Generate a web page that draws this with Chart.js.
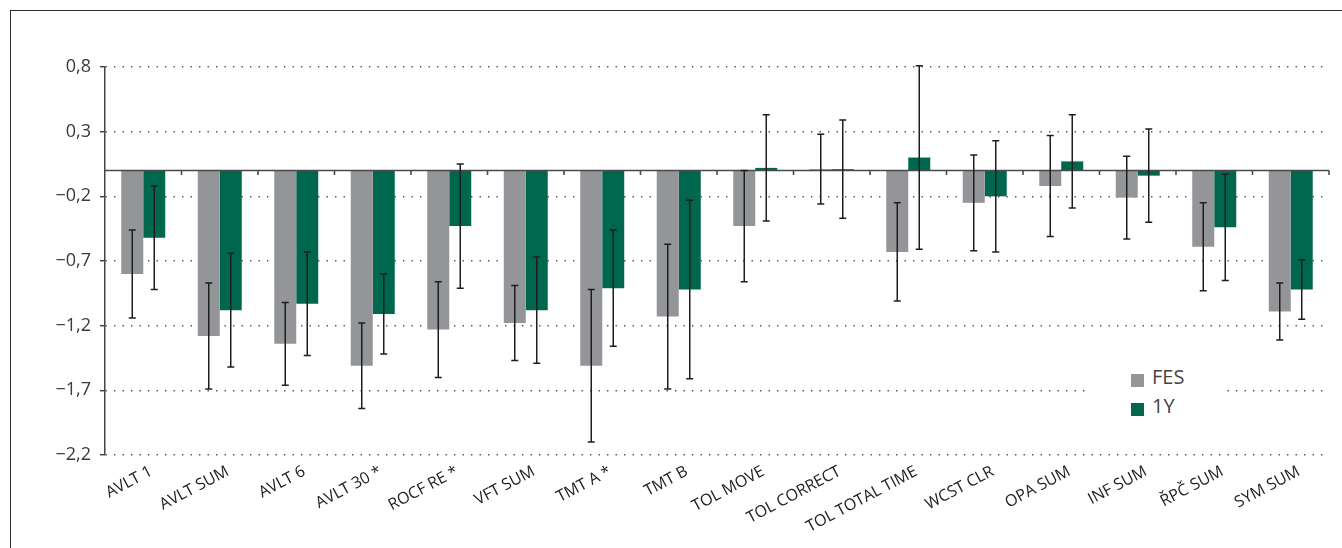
<!DOCTYPE html>
<html>
<head>
<meta charset="utf-8">
<script src="https://cdn.jsdelivr.net/npm/chart.js@4/dist/chart.umd.min.js"></script>
<style>
  html, body { margin: 0; padding: 0; background: #fff; overflow: hidden; }
  #wrap { position: relative; width: 1342px; height: 548px; }
  #frame {
    position: absolute; left: 10px; top: 10px; width: 1400px; height: 600px;
    border: 1.5px solid #2e2e2e; box-sizing: border-box;
  }
  #chart { position: absolute; left: 0; top: 0; }
  #legend {
    position: absolute; left: 1087px; top: 356px; width: 135px; height: 68px;
    background: #fff; font-family: 'Open Sans', sans-serif; font-size: 20px; color: #444;
  }
  .item { position: absolute; left: 44px; height: 20px; line-height: 20px; }
  .item i { position: absolute; left: 0; top: 4px; width: 12.5px; height: 12.5px; }
  .item span { position: absolute; left: 21px; top: -3px; white-space: nowrap; }
</style>
</head>
<body>
<div id="wrap">
  <div id="frame"></div>
  <canvas id="chart" width="1342" height="548"></canvas>
  <div id="legend">
    <div class="item" style="top:14px"><i style="background:#939598"></i><span>FES</span></div>
    <div class="item" style="top:43px"><i style="background:#00674f"></i><span>1Y</span></div>
  </div>
</div>
<script>
const categories = ['AVLT 1', 'AVLT SUM', 'AVLT 6', 'AVLT 30 *', 'ROCF RE *', 'VFT SUM', 'TMT A *', 'TMT B',
  'TOL MOVE', 'TOL CORRECT', 'TOL TOTAL TIME', 'WCST CLR', 'OPA SUM', 'INF SUM', 'ŘPČ SUM', 'SYM SUM']

const fesValues = [-0.80, -1.28, -1.34, -1.51, -1.23, -1.18, -1.51, -1.13, -0.43, 0.01, -0.63, -0.25, -0.12, -0.21, -0.59, -1.09]
const fesErrors = [0.34, 0.41, 0.32, 0.33, 0.37, 0.29, 0.59, 0.56, 0.43, 0.27, 0.38, 0.37, 0.39, 0.32, 0.34, 0.22]

const oneYearValues = [-0.52, -1.08, -1.03, -1.11, -0.43, -1.08, -0.91, -0.92, 0.02, 0.01, 0.10, -0.20, 0.07, -0.04, -0.44, -0.92]
const oneYearErrors = [0.40, 0.44, 0.40, 0.31, 0.48, 0.41, 0.45, 0.69, 0.41, 0.38, 0.71, 0.43, 0.36, 0.36, 0.41, 0.23]

const yTicks = [-2.2, -1.7, -1.2, -0.7, -0.2, 0.3, 0.8]

Chart.defaults.font.family = "'Open Sans', sans-serif"

// zero line with category tick marks, then the error bars
const overlay = {
  id: 'overlay',
  afterDatasetsDraw(chart) {
    const { ctx, chartArea, scales: { x, y } } = chart
    const y0 = y.getPixelForValue(0)
    ctx.save()
    ctx.strokeStyle = '#4a4a4a'
    ctx.lineWidth = 1.6
    ctx.beginPath()
    ctx.moveTo(chartArea.left, y0)
    ctx.lineTo(chartArea.right, y0)
    for (let i = 0; i < categories.length; i++) {
      const bx = x.getPixelForValue(i + 0.5)
      ctx.moveTo(bx, y0)
      ctx.lineTo(bx, y0 + 4.5)
    }
    ctx.stroke()

    ctx.strokeStyle = '#1e1e1e'
    ctx.lineWidth = 1.5
    chart.data.datasets.forEach((ds, di) => {
      const meta = chart.getDatasetMeta(di)
      meta.data.forEach((bar, j) => {
        const top = y.getPixelForValue(ds.data[j] + ds.errors[j])
        const bot = y.getPixelForValue(ds.data[j] - ds.errors[j])
        ctx.beginPath()
        ctx.moveTo(bar.x, top)
        ctx.lineTo(bar.x, bot)
        ctx.moveTo(bar.x - 3.5, top)
        ctx.lineTo(bar.x + 3.5, top)
        ctx.moveTo(bar.x - 3.5, bot)
        ctx.lineTo(bar.x + 3.5, bot)
        ctx.stroke()
      })
    })
    ctx.restore()
  },
}

new Chart(document.getElementById('chart'), {
  type: 'bar',
  data: {
    labels: categories,
    datasets: [
      { label: 'FES', data: fesValues, errors: fesErrors, backgroundColor: '#939598' },
      { label: '1Y', data: oneYearValues, errors: oneYearErrors, backgroundColor: '#00674f' },
    ],
  },
  options: {
    responsive: false,
    animation: false,
    layout: { padding: { top: 67, right: 13, left: 0, bottom: 0 } },
    datasets: { bar: { categoryPercentage: 0.575, barPercentage: 1, borderWidth: 0 } },
    plugins: { legend: { display: false }, tooltip: { enabled: false } },
    scales: {
      x: {
        grid: { display: false, drawTicks: false },
        border: { display: false },
        afterFit: (s) => { s.height = 93 },
        ticks: {
          autoSkip: false,
          minRotation: 28,
          maxRotation: 28,
          padding: 7,
          labelOffset: 8,
          color: '#222',
          font: { size: 16 },
        },
      },
      y: {
        min: -2.2,
        max: 0.8,
        afterFit: (s) => { s.width = 105 },
        afterBuildTicks: (s) => { s.ticks = yTicks.map((v) => ({ value: v })) },
        grid: {
          color: '#505050',
          lineWidth: 1.4,
          drawTicks: true,
          tickLength: 5,
          tickColor: '#444',
          tickWidth: 1.5,
        },
        border: { display: true, color: '#444', width: 1.5, dash: [1.4, 7.1] },
        ticks: {
          padding: 9,
          color: '#3a3a3a',
          font: { size: 18 },
          callback: (v) => (v < 0 ? '\u2212' : '') + Math.abs(v).toFixed(1).replace('.', ','),
        },
      },
    },
  },
  plugins: [overlay],
})
</script>
</body>
</html>
